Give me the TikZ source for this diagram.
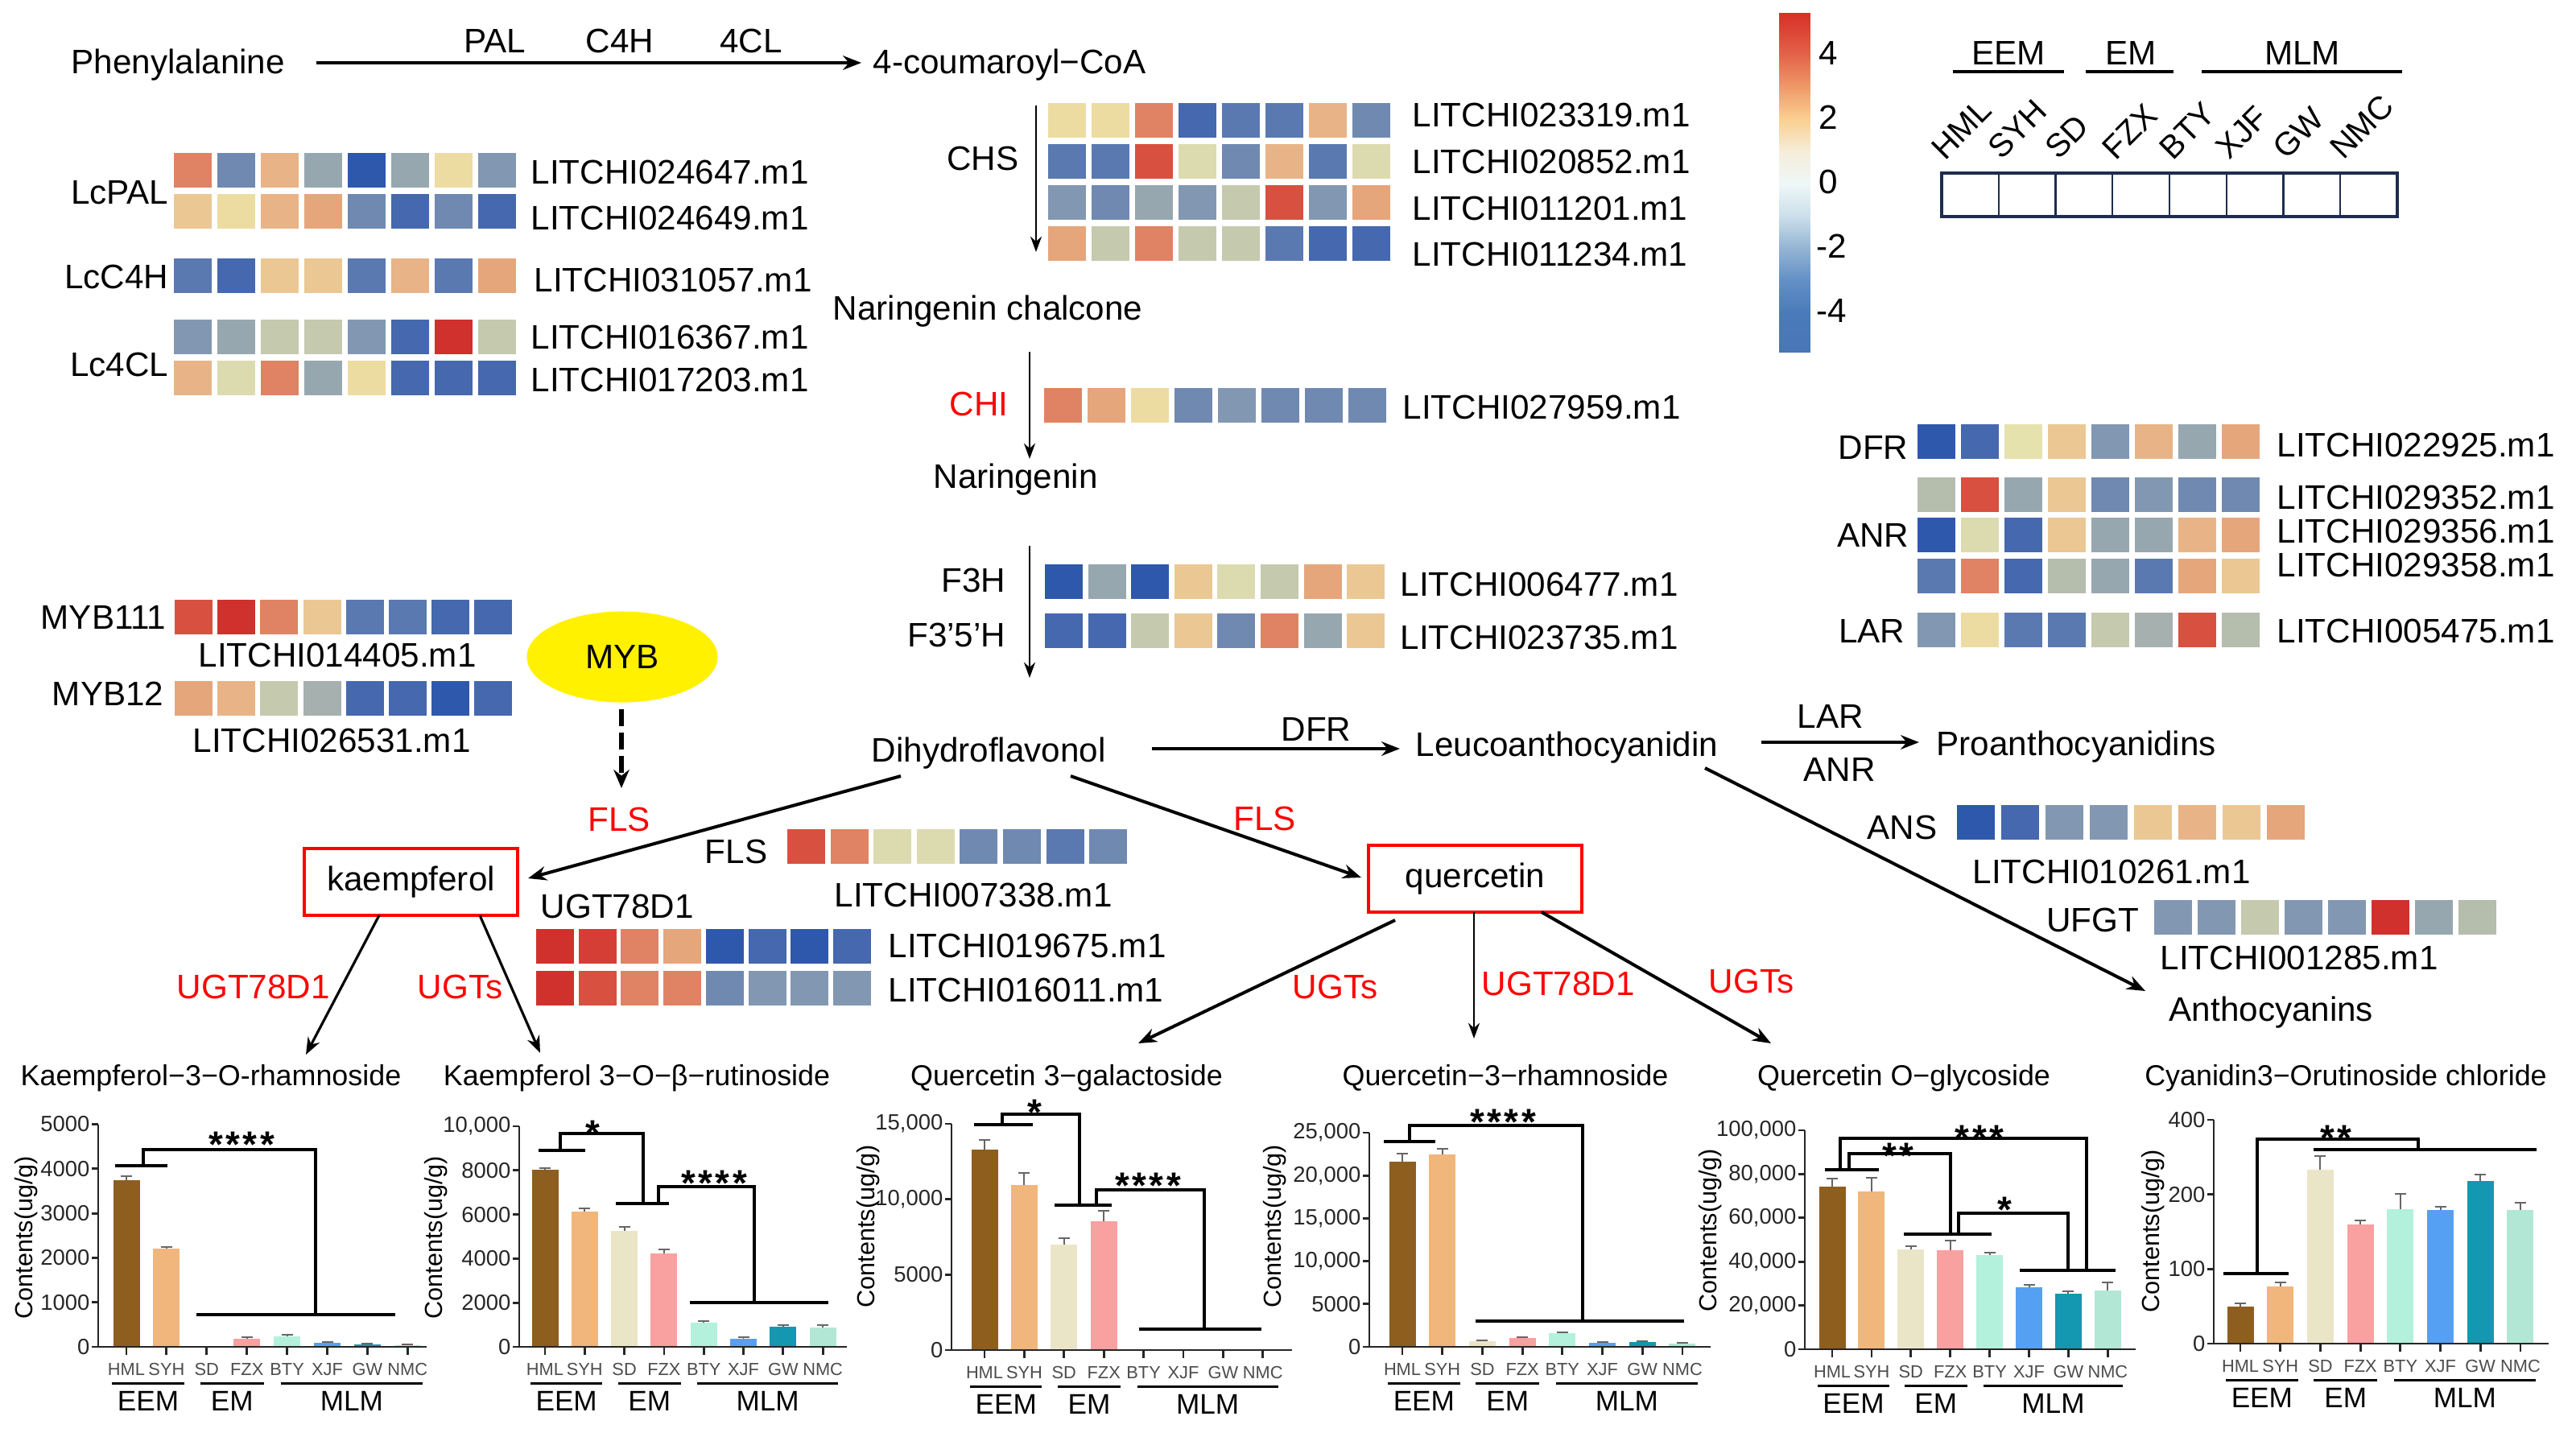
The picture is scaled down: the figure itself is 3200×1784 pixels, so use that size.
\documentclass[tikz,border=0pt]{standalone}
\usepackage{fontspec}
\setmainfont{Liberation Sans}
\usetikzlibrary{arrows.meta,shapes.geometric}
% heatmap palette
\definecolor{hmR5}{HTML}{D0312D}
\definecolor{hmRd}{HTML}{D43E35}
\definecolor{hmR4}{HTML}{D8503F}
\definecolor{hmR3}{HTML}{E08264}
\definecolor{hmR2}{HTML}{E5A67C}
\definecolor{hmPa}{HTML}{E8B487}
\definecolor{hmR1}{HTML}{EBC794}
\definecolor{hmY}{HTML}{EDDCA2}
\definecolor{hmYo}{HTML}{E6E2AE}
\definecolor{hmO}{HTML}{DCDBB0}
\definecolor{hmG}{HTML}{C5C9AE}
\definecolor{hmGg}{HTML}{B5BDAD}
\definecolor{hmGc}{HTML}{A6B0AE}
\definecolor{hmGb}{HTML}{97A7AF}
\definecolor{hmB1}{HTML}{8297B1}
\definecolor{hmB2}{HTML}{6F89B1}
\definecolor{hmB3}{HTML}{5A79B1}
\definecolor{hmB4}{HTML}{4568AE}
\definecolor{hmB5}{HTML}{2E58AC}
% bar colours
\definecolor{bar0}{HTML}{8E5E1F}
\definecolor{bar1}{HTML}{F0B67B}
\definecolor{bar2}{HTML}{EBE5C8}
\definecolor{bar3}{HTML}{F9A0A0}
\definecolor{bar4}{HTML}{B3F1DD}
\definecolor{bar5}{HTML}{56A0F4}
\definecolor{bar6}{HTML}{1497B0}
\definecolor{bar7}{HTML}{B2E7D6}
% colour bar
\definecolor{cbA}{HTML}{D73027}
\definecolor{cbB}{HTML}{E3644A}
\definecolor{cbC}{HTML}{F09A68}
\definecolor{cbD}{HTML}{FAD092}
\definecolor{cbE}{HTML}{F5EEDA}
\definecolor{cbF}{HTML}{EEF7F7}
\definecolor{cbG}{HTML}{CCDFEA}
\definecolor{cbH}{HTML}{94B4D4}
\definecolor{cbI}{HTML}{6290C6}
\definecolor{cbJ}{HTML}{4B7ABA}
\definecolor{cbK}{HTML}{4876B6}
\definecolor{mybY}{HTML}{FFF100}
\definecolor{legnavy}{HTML}{1E2D4F}

\tikzset{
  lbl/.style={font=\fontsize{12}{14}\selectfont, inner sep=0pt},
  rlbl/.style={lbl, text=red},
  ttl/.style={font=\fontsize{10.2}{12}\selectfont, inner sep=0pt},
  ticklab/.style={font=\fontsize{7.8}{9}\selectfont, inner sep=0pt, text=black!85},
  xlab/.style={font=\fontsize{6.2}{7}\selectfont, inner sep=0pt, text=black!70},
  grp/.style={font=\fontsize{10}{12}\selectfont, inner sep=0pt},
  ylab/.style={font=\fontsize{8.7}{10}\selectfont, inner sep=0pt, rotate=90},
  starl/.style={font=\bfseries\fontsize{13}{14}\selectfont, inner sep=0pt},
  leg/.style={font=\fontsize{11.5}{13}\selectfont, inner sep=0pt},
  axisl/.style={line width=0.8pt, black!85},
  brk/.style={line width=1.14pt},
  grpl/.style={line width=0.85pt},
  errb/.style={line width=0.55pt, black!60},
  arr/.style={line width=1.14pt, -{Stealth[length=6.5pt,width=5pt]}},
  marr/.style={line width=0.9pt, -{Stealth[length=6pt,width=4.6pt]}},
  tarr/.style={line width=0.6pt, -{Stealth[length=5.5pt,width=4pt]}},
  box/.style={draw=red, line width=1pt, minimum width=2.65cm, minimum height=0.83cm, inner sep=0pt, font=\fontsize{12}{14}\selectfont},
}

\newcommand\hmrow[4]{% x0, y0, pitch, colours
  \foreach \c [count=\i from 0] in {#4} {\fill[fill=hm\c] ({#1+\i*#3},#2) rectangle ++(47,43);}}

\newcommand\cbseg[4]{%
  \foreach \k [evaluate=\k as \pp using int(\k*5)] in {0,...,19}{%
    \fill[fill={#4!\pp!#3}] (2210,{#1+(#2-#1)*\k/20}) rectangle (2249,{#1+(#2-#1)*(\k+1)/20+0.6});}}

\newcommand\bars[6]{% ax, y0, xend, x1, pitch, list top/err
  \foreach \bt/\be [count=\i from 0] in {#6} {
    \pgfmathsetmacro\bx{#4+\i*#5}
    \fill[fill=bar\i] ({\bx-16.5},\bt) rectangle ({\bx+16.5},#2);
    \draw[errb] (\bx,\bt) -- (\bx,\be) ({\bx-7},\be) -- ({\bx+7},\be);
    \draw[axisl] (\bx,#2) -- (\bx,{#2+10});
  }
  \draw[axisl] ({#1-8},#2) -- (#3,#2);
}

\newcommand\yax[6]{% id, ax, y0, step, kmax, list k/label
  \draw[axisl] (#2,{#3-#5*#4}) -- (#2,#3);
  \foreach \k/\lab in {#6} {
    \draw[axisl] ({#2-8},{#3-\k*#4}) -- (#2,{#3-\k*#4});
    \node[ticklab,anchor=east] (#1y\k) at ({#2-10},{#3-\k*#4}) {\lab};
  }
}

\newcommand\xgroups[4]{% id, y0, x1, pitch
  \foreach \n [count=\i from 0] in {HML,SYH,SD,FZX,BTY,XJF,GW,NMC}
    \node[xlab,anchor=base] (#1x\i) at ({#3+\i*#4},{#2+35}) {\n};
  \draw[grpl] ({#3-18},{#2+45}) -- ({#3+#4+22},{#2+45});
  \draw[grpl] ({#3+2*#4-8},{#2+45}) -- ({#3+3*#4+21},{#2+45});
  \draw[grpl] ({#3+4*#4-8},{#2+45}) -- ({#3+7*#4+19},{#2+45});
  \node[grp,anchor=base] (#1g1) at ({#3+0.5*#4+2},{#2+79}) {EEM};
  \node[grp,anchor=base] (#1g2) at ({#3+2.5*#4+6.5},{#2+79}) {EM};
  \node[grp,anchor=base] (#1g3) at ({#3+5.5*#4+5.5},{#2+79}) {MLM};
}

\begin{document}
\begin{tikzpicture}[x=0.01cm,y=-0.01cm]
\useasboundingbox (0,0) rectangle (3200,1784);

% ================= top row =================
\node[lbl,anchor=base west] (phe) at (88,91) {Phenylalanine};
\node[lbl,anchor=base] (pal) at (615,65) {PAL};
\node[lbl,anchor=base] (c4h) at (770,65) {C4H};
\node[lbl,anchor=base] (fcl) at (933,65) {4CL};
\node[lbl,anchor=base west] (cou) at (1084,91) {4-coumaroyl−CoA};
\coordinate (a1s) at (393,78); \coordinate (a1e) at (1070,78);
\draw[arr] (a1s) -- (a1e);

% ================= left heatmaps =================
\hmrow{216}{190}{54}{R3,B2,Pa,Gb,B5,Gb,Y,B1}
\hmrow{216}{241}{54}{R1,Y,Pa,R2,B2,B4,B2,B4}
\hmrow{216}{321}{54}{B3,B4,R1,R1,B3,Pa,B3,R2}
\hmrow{216}{397}{54}{B1,Gb,G,G,B1,B4,R5,G}
\hmrow{216}{448}{54}{Pa,O,R3,Gb,Y,B4,B4,B4}
\node[lbl,anchor=base east] (lcpal) at (210,253) {LcPAL};
\node[lbl,anchor=base east] (lcc4h) at (210,358) {LcC4H};
\node[lbl,anchor=base east] (lc4cl) at (210,467) {Lc4CL};
\node[lbl,anchor=base west] (g24647) at (659,228) {LITCHI024647.m1};
\node[lbl,anchor=base west] (g24649) at (659,285) {LITCHI024649.m1};
\node[lbl,anchor=base west] (g31057) at (663,362) {LITCHI031057.m1};
\node[lbl,anchor=base west] (g16367) at (659,433) {LITCHI016367.m1};
\node[lbl,anchor=base west] (g17203) at (659,486) {LITCHI017203.m1};

% ================= CHS / CHI =================
\hmrow{1302}{128}{54}{Y,Y,R3,B4,B3,B3,Pa,B2}
\hmrow{1302}{179}{54}{B3,B3,R4,O,B2,Pa,B3,O}
\hmrow{1302}{230}{54}{B1,B2,Gb,B1,G,R4,B1,R2}
\hmrow{1302}{281}{54}{R2,G,R3,G,G,B3,B4,B4}
\node[lbl,anchor=base east] (chs) at (1266,211) {CHS};
\node[lbl,anchor=base west] (g23319) at (1754,157) {LITCHI023319.m1};
\node[lbl,anchor=base west] (g20852) at (1754,215) {LITCHI020852.m1};
\node[lbl,anchor=base west] (g11201) at (1754,273) {LITCHI011201.m1};
\node[lbl,anchor=base west] (g11234) at (1754,330) {LITCHI011234.m1};
\coordinate (chss) at (1287,131); \coordinate (chse) at (1287,313);
\draw[tarr] (chss) -- (chse);
\node[lbl,anchor=base west] (narc) at (1034,397) {Naringenin chalcone};
\hmrow{1297}{482}{54}{R3,R2,Y,B2,B1,B2,B2,B2}
\node[rlbl,anchor=base east] (chi) at (1253,516) {CHI};
\node[lbl,anchor=base west] (g27959) at (1742,520) {LITCHI027959.m1};
\coordinate (chis) at (1279,437); \coordinate (chie) at (1279,570);
\draw[tarr] (chis) -- (chie);
\node[lbl,anchor=base west] (nar) at (1159,606) {Naringenin};

% ================= F3H =================
\hmrow{1298}{701}{53.6}{B5,Gb,B5,R1,O,G,R2,R1}
\hmrow{1298}{762}{53.6}{B4,B4,G,R1,B2,R3,Gb,R1}
\node[lbl,anchor=base east] (f3h) at (1250,735) {F3H};
\node[lbl,anchor=base east] (f35h) at (1250,803) {F3’5’H};
\node[lbl,anchor=base west] (g06477) at (1739,740) {LITCHI006477.m1};
\node[lbl,anchor=base west] (g23735) at (1739,806) {LITCHI023735.m1};
\coordinate (f3s) at (1279,678); \coordinate (f3e) at (1279,842);
\draw[tarr] (f3s) -- (f3e);

% ================= central pathway =================
\node[lbl,anchor=base west] (dhf) at (1082,946) {Dihydroflavonol};
\node[lbl,anchor=base west] (dfrl) at (1591,920) {DFR};
\node[lbl,anchor=base west] (leu) at (1758,939) {Leucoanthocyanidin};
\coordinate (dls) at (1431,930); \coordinate (dle) at (1739,930);
\draw[arr] (dls) -- (dle);
\node[lbl,anchor=base] (larl) at (2274,904) {LAR};
\node[lbl,anchor=base] (anrl) at (2285,970) {ANR};
\node[lbl,anchor=base west] (pro) at (2405,938) {Proanthocyanidins};
\coordinate (lps) at (2188,922); \coordinate (lpe) at (2384,922);
\draw[arr] (lps) -- (lpe);

% ================= right heatmaps =================
\hmrow{2382}{527}{54}{B5,B4,Yo,R1,B1,Pa,Gb,R2}
\hmrow{2382}{593}{54}{Gg,R4,Gb,R1,B2,B1,B2,B2}
\hmrow{2382}{643}{54}{B5,O,B4,R1,Gb,Gb,Pa,R2}
\hmrow{2382}{694}{54}{B3,R3,B4,Gg,Gb,B3,R2,R1}
\hmrow{2382}{761}{54}{B1,Y,B3,B3,G,Gc,R4,Gg}
\node[lbl,anchor=base east] (dfrh) at (2371,570) {DFR};
\node[lbl,anchor=base east] (anrh) at (2372,679) {ANR};
\node[lbl,anchor=base east] (larh) at (2367,798) {LAR};
\node[lbl,anchor=base west] (g22925) at (2828,567) {LITCHI022925.m1};
\node[lbl,anchor=base west] (g29352) at (2828,632) {LITCHI029352.m1};
\node[lbl,anchor=base west] (g29356) at (2828,674) {LITCHI029356.m1};
\node[lbl,anchor=base west] (g29358) at (2828,716) {LITCHI029358.m1};
\node[lbl,anchor=base west] (g05475) at (2828,798) {LITCHI005475.m1};

\hmrow{2431}{1000}{55}{B5,B4,B1,B1,R1,Pa,R1,R2}
\node[lbl,anchor=base east] (ans) at (2407,1042) {ANS};
\node[lbl,anchor=base west] (g10261) at (2450,1097) {LITCHI010261.m1};
\hmrow{2676}{1118}{54}{B1,B1,G,B1,B1,R5,Gb,Gg}
\node[lbl,anchor=base east] (ufgt) at (2658,1157) {UFGT};
\node[lbl,anchor=base west] (g01285) at (2683,1204) {LITCHI001285.m1};
\node[lbl,anchor=base west] (antho) at (2694,1268) {Anthocyanins};
\coordinate (las) at (2118,954); \coordinate (lae) at (2665,1231);
\draw[arr] (las) -- (lae);

% ================= MYB =================
\hmrow{217}{745}{53.2}{R4,R5,R3,R1,B3,B3,B4,B4}
\hmrow{217}{846}{53.2}{R2,Pa,G,Gc,B4,B4,B5,B4}
\node[lbl,anchor=base east] (myb111) at (207,781) {MYB111};
\node[lbl,anchor=base east] (myb12) at (204,876) {MYB12};
\node[lbl,anchor=base west] (g14405) at (246,828) {LITCHI014405.m1};
\node[lbl,anchor=base west] (g26531) at (239,934) {LITCHI026531.m1};
\node[ellipse, fill=mybY, minimum width=2.37cm, minimum height=1.13cm, inner sep=0pt, font=\fontsize{12}{14}\selectfont] (myb) at (773,816) {MYB};
\coordinate (mybs) at (772,881); \coordinate (mybe) at (772,979);
\draw[line width=1.5pt, dash pattern=on 6pt off 2.2pt, -{Stealth[length=6.5pt,width=5.5pt]}] (mybs) -- (mybe);
\node[rlbl,anchor=base west] (flsr1) at (730,1032) {FLS};

% ================= kaempferol branch =================
\node[box] (kae) at (510.5,1095.5) {kaempferol};
\coordinate (dks) at (1119,964); \coordinate (dke) at (656,1091);
\draw[arr] (dks) -- (dke);
\hmrow{978}{1030}{53.6}{R4,R3,O,O,B2,B2,B3,B2}
\node[lbl,anchor=base east] (flsb) at (954,1072) {FLS};
\node[lbl,anchor=base west] (g07338) at (1036,1126) {LITCHI007338.m1};
\node[lbl,anchor=base west] (ugtb) at (671,1140) {UGT78D1};
\hmrow{666}{1154}{52.7}{R5,Rd,R3,R2,B5,B4,B5,B4}
\hmrow{666}{1206}{52.7}{R5,R4,R3,R3,B2,B1,B1,B1}
\node[lbl,anchor=base west] (g19675) at (1103,1189) {LITCHI019675.m1};
\node[lbl,anchor=base west] (g16011) at (1103,1244) {LITCHI016011.m1};
\node[rlbl,anchor=base west] (ugtr1) at (219,1240) {UGT78D1};
\node[rlbl,anchor=base west] (ugtsr1) at (518,1240) {UGTs};
\coordinate (k1s) at (471,1137); \coordinate (k1e) at (380,1310);
\coordinate (k2s) at (596,1137); \coordinate (k2e) at (671,1308);
\draw[marr] (k1s) -- (k1e);
\draw[marr] (k2s) -- (k2e);

% ================= quercetin branch =================
\node[box] (que) at (1832.5,1091.5) {quercetin};
\node[rlbl,anchor=base west] (flsr2) at (1532,1031) {FLS};
\coordinate (dqs) at (1330,964); \coordinate (dqe) at (1691,1090);
\draw[arr] (dqs) -- (dqe);
\coordinate (q1s) at (1733,1143); \coordinate (q1e) at (1414,1296);
\coordinate (q2s) at (1831,1133); \coordinate (q2e) at (1831,1290);
\coordinate (q3s) at (1915,1133); \coordinate (q3e) at (2200,1296);
\draw[arr] (q1s) -- (q1e);
\draw[tarr] (q2s) -- (q2e);
\draw[arr] (q3s) -- (q3e);
\node[rlbl,anchor=base west] (ugtsr2) at (1605,1240) {UGTs};
\node[rlbl,anchor=base west] (ugtr2) at (1840,1236) {UGT78D1};
\node[rlbl,anchor=base west] (ugtsr3) at (2122,1233) {UGTs};

% ================= colour bar & legend =================
\cbseg{16}{68}{cbA}{cbB}
\cbseg{68}{108}{cbB}{cbC}
\cbseg{108}{148}{cbC}{cbD}
\cbseg{148}{188}{cbD}{cbE}
\cbseg{188}{228}{cbE}{cbF}
\cbseg{228}{268}{cbF}{cbG}
\cbseg{268}{308}{cbG}{cbH}
\cbseg{308}{348}{cbH}{cbI}
\cbseg{348}{388}{cbI}{cbJ}
\cbseg{388}{437}{cbJ}{cbK}
\node[lbl,anchor=base west] (cb4) at (2259,80) {4};
\node[lbl,anchor=base west] (cb2) at (2259,160) {2};
\node[lbl,anchor=base west] (cb0) at (2259,240) {0};
\node[lbl,anchor=base west] (cbm2) at (2256,320) {-2};
\node[lbl,anchor=base west] (cbm4) at (2256,400) {-4};

\node[lbl,anchor=base] (hEEM) at (2495,80) {EEM};
\node[lbl,anchor=base] (hEM) at (2647,80) {EM};
\node[lbl,anchor=base] (hMLM) at (2860,80) {MLM};
\draw[brk] (2426,89) -- (2564,89);
\draw[brk] (2591,89) -- (2700,89);
\draw[brk] (2735,89) -- (2984,89);
\foreach \n [count=\i from 0] in {HML,SYH,SD,FZX,BTY,XJF,GW,NMC}
  \node[leg,rotate=45,anchor=south west] (lg\i) at ({2416+\i*70.75},201) {\n};
\foreach \k in {1,...,7} \draw[legnavy, line width=0.6pt] ({2412+\k*70.75},215) -- ({2412+\k*70.75},269);
\draw[legnavy, line width=0.9pt] (2412,215) rectangle (2978,269);

% ================= bar charts =================
% chart 1
\node[ttl,anchor=base] (t1) at (262,1348) {Kaempferol−3−O-rhamnoside};
\bars{122}{1673}{530}{157}{49.9}{1466/1461,1551/1549,1673/1673,1663/1661,1660/1658,1668/1667,1670/1669,1671/1670}
\yax{c1}{122}{1673}{55.3}{5}{0/0,1/1000,2/2000,3/3000,4/4000,5/5000}
\xgroups{c1}{1673}{157}{49.9}
\node[ylab] (yl1) at (33,1537) {Contents(ug/g)};
\node[starl,anchor=base] (s1) at (300,1437) {*\kern1pt*\kern1pt*\kern1pt*};
\draw[brk] (143,1448) -- (208,1448) (178,1448) -- (178,1428) -- (392,1428) -- (392,1633) (244,1633) -- (491,1633);

% chart 2
\node[ttl,anchor=base] (t2) at (791,1348) {Kaempferol 3−O−β−rutinoside};
\bars{645}{1673}{1052}{677}{49.3}{1453/1451,1505/1501,1529/1524,1557/1552,1643/1641,1663/1661,1648/1646,1649/1646}
\yax{c2}{645}{1673}{54.8}{5}{0/0,1/2000,2/4000,3/6000,4/8000,5/{10,000}}
\xgroups{c2}{1673}{677}{49.3}
\node[ylab] (yl2) at (542,1537) {Contents(ug/g)};
\node[starl,anchor=base] (s2a) at (736,1423) {*};
\node[starl,anchor=base] (s2b) at (887,1485) {*\kern1pt*\kern1pt*\kern1pt*};
\draw[brk] (669,1429) -- (727,1429) (696,1429) -- (696,1408) -- (799,1408) -- (799,1495) (765,1495) -- (831,1495) (818,1495) -- (818,1474) -- (937,1474) -- (937,1618) (857,1618) -- (1029,1618);

% chart 3
\node[ttl,anchor=base] (t3) at (1325,1348) {Quercetin 3−galactoside};
\bars{1182}{1677}{1605}{1223}{49.4}{1428/1416,1472/1457,1546/1538,1517/1504,1677/1677,1677/1677,1677/1677,1677/1677}
\yax{c3}{1182}{1677}{93.7}{3}{0/0,1/5000,2/{10,000},3/{15,000}}
\xgroups{c3}{1677}{1223}{49.4}
\node[ylab] (yl3) at (1079,1523) {Contents(ug/g)};
\node[starl,anchor=base] (s3a) at (1285,1397) {*};
\node[starl,anchor=base] (s3b) at (1426,1488) {*\kern1pt*\kern1pt*\kern1pt*};
\draw[brk] (1210,1397) -- (1283,1397) (1245,1397) -- (1245,1384) -- (1341,1384) -- (1341,1497) (1310,1497) -- (1381,1497) (1362,1497) -- (1362,1478) -- (1496,1478) -- (1496,1651) (1415,1651) -- (1567,1651);

% chart 4
\node[ttl,anchor=base] (t4) at (1870,1348) {Quercetin−3−rhamnoside};
\bars{1701}{1673}{2125}{1742}{49.7}{1443/1433,1434/1427,1666/1665,1662/1661,1656/1655,1668/1667,1667/1666,1669/1668}
\yax{c4}{1701}{1673}{53.2}{5}{0/0,1/5000,2/{10,000},3/{15,000},4/{20,000},5/{25,000}}
\xgroups{c4}{1673}{1742}{49.7}
\node[ylab] (yl4) at (1584,1523) {Contents(ug/g)};
\node[starl,anchor=base] (s4) at (1867,1409) {*\kern1pt*\kern1pt*\kern1pt*};
\draw[brk] (1719,1418) -- (1783,1418) (1751,1418) -- (1751,1398) -- (1966,1398) -- (1966,1641) (1833,1641) -- (2092,1641);

% chart 5
\node[ttl,anchor=base] (t5) at (2365,1348) {Quercetin O−glycoside};
\bars{2242}{1676}{2653}{2276}{48.9}{1474/1464,1480/1463,1552/1548,1553/1541,1559/1556,1599/1596,1607/1604,1603/1593}
\yax{c5}{2242}{1676}{54.4}{5}{0/0,1/{20,000},2/{40,000},3/{60,000},4/{80,000},5/{100,000}}
\xgroups{c5}{1676}{2276}{48.9}
\node[ylab] (yl5) at (2125,1528) {Contents(ug/g)};
\node[starl,anchor=base] (s5a) at (2459,1429) {*\kern1pt*\kern1pt*};
\node[starl,anchor=base] (s5b) at (2358,1451) {*\kern1pt*};
\node[starl,anchor=base] (s5c) at (2490,1518) {*};
\draw[brk] (2267,1453) -- (2334,1453) (2286,1453) -- (2286,1414) -- (2592,1414) -- (2592,1578) (2297,1453) -- (2297,1433) -- (2423,1433) -- (2423,1533) (2365,1533) -- (2474,1533) (2433,1533) -- (2433,1507) -- (2569,1507) -- (2569,1578) (2509,1578) -- (2628,1578);

% chart 6
\node[ttl,anchor=base] (t6) at (2914,1348) {Cyanidin3−Orutinoside chloride};
\bars{2750}{1669}{3166}{2783}{49.7}{1623/1619,1598/1593,1453/1436,1521/1516,1502/1483,1503/1499,1467/1459,1503/1494}
\yax{c6}{2750}{1669}{92.7}{3}{0/0,1/100,2/200,3/400}
\xgroups{c6}{1669}{2783}{49.7}
\node[ylab] (yl6) at (2675,1529) {Contents(ug/g)};
\node[starl,anchor=base] (s6) at (2902,1429) {*\kern1pt*};
\draw[brk] (2762,1582) -- (2843,1582) (2804,1582) -- (2804,1415) -- (3004,1415) -- (3004,1428) (2874,1428) -- (3151,1428);

\end{tikzpicture}
\end{document}
